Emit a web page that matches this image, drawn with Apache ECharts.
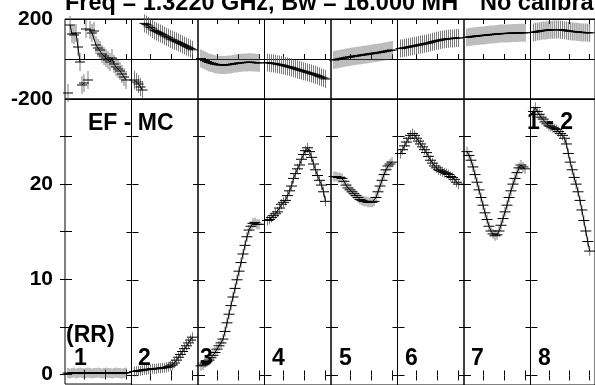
<!DOCTYPE html>
<html>
<head>
<meta charset="utf-8">
<script src="https://cdn.jsdelivr.net/npm/echarts@6/dist/echarts.min.js"></script>
<style>
  html, body { margin: 0; padding: 0; background: #fff; }
  #chart { width: 595px; height: 385px; }
</style>
</head>
<body>
<div id="chart"></div>
<script>
// Spectral channels within each IF
const channels = [1,2,3,4,5,6,7,8,9,10,11,12,13,14,15,16,17,18,19,20,21,22,23,24,25,26,27,28,29,30];
const ifLabels = ['1','2','3','4','5','6','7','8'];

// Amplitude per IF (RR)
const amp1 = [0.15,0.1,0.15,0.2,0.1,0.15,0.2,0.15,0.1,0.15,0.2,0.15,0.1,0.15,0.15,0.2,0.15,0.1,0.15,0.2,0.15,0.15,0.1,0.15,0.2,0.15,0.15,0.1,0.15,0.2];
const amp2 = [0.4,0.45,0.5,0.5,0.55,0.6,0.6,0.65,0.65,0.7,0.7,0.7,0.75,0.75,0.8,0.8,0.85,0.9,1.0,1.1,1.3,1.6,1.9,2.2,2.5,2.8,3.1,3.4,3.7,4.0];
const amp3 = [1.0,1.1,1.3,1.45,1.6,1.85,2.1,2.4,2.75,3.1,3.4,3.8,4.6,5.5,6.4,7.3,8.2,9.1,10.0,10.9,11.8,12.7,13.6,14.5,15.2,15.6,15.9,16.0,15.8,15.8];
const amp4 = [16.2,16.3,16.5,16.7,16.9,17.1,17.5,17.9,18.1,18.3,18.8,19.3,19.8,20.6,21.1,21.6,22.0,22.6,23.1,23.5,23.8,23.4,22.8,22.1,21.5,20.9,20.4,19.9,19.2,18.2];
const amp5 = [20.8,20.8,20.7,20.7,20.6,20.3,19.9,19.6,19.4,19.2,19.0,18.8,18.6,18.4,18.3,18.2,18.2,18.1,18.1,18.1,18.2,18.6,19.2,19.8,20.4,21.0,21.5,21.9,22.1,22.3];
const amp6 = [23.2,23.6,24.0,24.4,24.8,25.1,25.3,25.1,24.8,24.5,24.2,23.9,23.6,23.3,22.9,22.5,22.2,21.9,21.7,21.5,21.4,21.3,21.2,21.1,21.0,20.8,20.7,20.5,20.2,20.0];
const amp7 = [23.4,23.0,22.5,21.8,21.0,20.2,19.4,18.6,17.8,17.0,16.3,15.6,15.1,14.8,14.6,14.7,15.1,15.7,16.4,17.1,17.8,18.6,19.3,20.0,20.6,21.2,21.7,22.0,21.8,21.6];
const amp8 = [27.6,28.0,27.6,27.3,27.0,26.8,26.5,26.3,26.1,26.0,25.9,25.8,25.7,25.5,25.3,25.1,24.8,24.2,23.2,22.3,21.5,20.7,20.0,19.2,18.3,17.3,16.2,15.1,14.0,13.0];

// Phase per IF (degrees)
const pha1 = [-170,170,125,120,130,60,-15,-130,-120,150,-105,145,130,140,70,55,45,25,15,5,-5,-15,5,-25,-40,-50,-60,-75,-90,-105];
const pha2 = [-105,-115,-125,-140,-155,178,172,165,158,150,143,138,133,128,122,116,111,106,100,96,91,87,82,78,73,68,63,58,52,46];
const pha3 = [2,-3,-8,-13,-17,-20,-23,-26,-28,-29,-30,-30,-30,-29,-28,-27,-25,-23,-22,-20,-19,-18,-17,-17,-16,-16,-17,-18,-19,-20];
const pha4 = [-18,-20,-21,-22,-24,-26,-28,-30,-32,-35,-38,-40,-43,-46,-49,-52,-55,-58,-61,-64,-67,-70,-73,-76,-79,-83,-87,-91,-95,-100];
const pha5 = [-5,-3,-1,1,3,5,7,9,10,12,14,15,17,18,20,21,23,24,26,27,29,30,32,33,35,37,39,41,43,45];
const pha6 = [52,54,56,58,60,62,64,66,68,70,72,74,76,78,80,83,86,88,91,93,95,97,99,100,101,102,103,104,105,105];
const pha7 = [108,110,111,113,114,115,116,117,118,119,120,121,122,123,124,125,126,127,127,128,128,129,129,130,130,130,131,131,131,131];
const pha8 = [133,135,137,139,141,142,143,144,145,146,146,147,147,147,146,145,144,142,140,139,138,137,136,135,134,133,132,132,131,131];

// Axis ticks
const ampTicks = [0, 5, 10, 15, 20, 25];
const ampTickLabels = [0, 10, 20];
const phaseTickLabels = [-200, 200];
const chanTicks = [9, 19.5, 30];

const amps = [amp1, amp2, amp3, amp4, amp5, amp6, amp7, amp8];
const phases = [pha1, pha2, pha3, pha4, pha5, pha6, pha7, pha8];

const chart = echarts.init(document.getElementById('chart'), null, { renderer: 'canvas' });

const FONT = '"Liberation Sans", Arial, Helvetica, sans-serif';
const X0 = 65, PANEL_W = 66.5;
const TOP_Y = 19, TOP_H = 80, BOT_Y = 99, BOT_H = 287;
const X_MIN = -0.5, X_MAX = 32.75;
const AMP_MIN = -1, AMP_MAX = 28.9;

const grids = [], xAxes = [], yAxes = [], series = [];

function addXAxes(g) {
  ['bottom', 'top'].forEach(pos => {
    xAxes.push({
      type: 'value', gridIndex: g, position: pos, min: X_MIN, max: X_MAX,
      axisLine: { show: false }, axisLabel: { show: false }, splitLine: { show: false },
      axisTick: { show: true, inside: true, length: 5, customValues: chanTicks,
                  lineStyle: { color: '#000', width: 1 } }
    });
  });
}

// Phase row (top) and amplitude row (bottom), one panel per IF
for (let i = 0; i < 8; i++) {
  grids.push({ left: X0 + i * PANEL_W, top: TOP_Y, width: PANEL_W, height: TOP_H,
               show: true, borderColor: '#000', borderWidth: 1, backgroundColor: 'transparent' });
}
for (let i = 0; i < 8; i++) {
  grids.push({ left: X0 + i * PANEL_W, top: BOT_Y, width: PANEL_W, height: BOT_H,
               show: true, borderColor: '#000', borderWidth: 1, backgroundColor: 'transparent' });
}

const labelStyle = { color: '#000', fontFamily: FONT, fontWeight: 'bold', fontSize: 21 };

for (let i = 0; i < 8; i++) {
  addXAxes(i);
  yAxes.push({
    type: 'value', gridIndex: i, position: 'left', min: -200, max: 200, interval: 200,
    axisLine: { show: false }, axisTick: { show: false },
    splitLine: { show: true, lineStyle: { color: '#000', width: 1 } },
    axisLabel: Object.assign({ show: i === 0, margin: 12, customValues: phaseTickLabels }, labelStyle)
  });
}
for (let i = 0; i < 8; i++) {
  addXAxes(8 + i);
  ['left', 'right'].forEach(pos => {
    yAxes.push({
      type: 'value', gridIndex: 8 + i, position: pos, min: AMP_MIN, max: AMP_MAX,
      axisLine: { show: false }, splitLine: { show: false },
      axisTick: { show: true, inside: false, length: 6, customValues: ampTicks,
                  lineStyle: { color: '#000', width: 1 } },
      axisLabel: Object.assign({ show: i === 0 && pos === 'left', margin: 12,
                                 customValues: ampTickLabels }, labelStyle)
    });
  });
}

// Break the phase trace where it wraps, so the line does not jump across the panel
function phaseLine(vals) {
  const out = [];
  vals.forEach((v, k) => {
    if (k > 0 && Math.abs(v - vals[k - 1]) > 90) {
      out.push([(channels[k] + channels[k - 1]) / 2, '-']);
    }
    out.push([channels[k], v]);
  });
  return out;
}

for (let i = 0; i < 8; i++) {
  const px = 2 * i, py = i;                 // phase axes
  const ax = 16 + 2 * i, ay = 8 + 2 * i;    // amplitude axes
  const ampData = channels.map((c, k) => [c, amps[i][k]]);
  const phData = channels.map((c, k) => [c, phases[i][k]]);

  series.push({
    type: 'scatter', xAxisIndex: px, yAxisIndex: py, data: phData,
    symbol: 'rect', symbolSize: [1, 18], itemStyle: { color: '#5a5a5a' }, z: 2, silent: true
  });
  series.push({
    type: 'line', xAxisIndex: px, yAxisIndex: py, data: phaseLine(phases[i]),
    showSymbol: true, showAllSymbol: true, symbol: 'rect', symbolSize: [10, 1],
    itemStyle: { color: '#000' }, lineStyle: { color: '#000', width: 1 }, z: 3, silent: true
  });
  series.push({
    type: 'scatter', xAxisIndex: ax, yAxisIndex: ay, data: ampData,
    symbol: 'rect', symbolSize: [1, 10], itemStyle: { color: '#5a5a5a' }, z: 2, silent: true
  });
  series.push({
    type: 'line', xAxisIndex: ax, yAxisIndex: ay, data: ampData,
    showSymbol: true, showAllSymbol: true, symbol: 'rect', symbolSize: [11, 1],
    itemStyle: { color: '#000' }, lineStyle: { color: '#000', width: 1 }, z: 3, silent: true
  });
}

function txt(x, y, s, size) {
  return { type: 'text', x: x, y: y, z: 10, silent: true,
           style: { text: s, font: 'bold ' + (size || 23) + 'px ' + FONT, fill: '#000',
                    align: 'left', verticalAlign: 'middle' } };
}

const graphics = [
  txt(65, 4, 'Freq = 1.3220 GHz, Bw = 16.000 MH', 23.5),
  txt(480, 4, 'No calibra', 23.5),
  txt(88, 124, 'EF - MC'),
  txt(527, 123, '1 - 2'),
  txt(66, 336, '(RR)')
];
const ifLabelX = [74, 138, 200, 272, 339, 405, 471, 538];
ifLabels.forEach((s, i) => graphics.push(txt(ifLabelX[i], 359, s)));

chart.setOption({
  animation: false,
  backgroundColor: '#fff',
  grid: grids,
  xAxis: xAxes,
  yAxis: yAxes,
  series: series,
  graphic: graphics
});
</script>
</body>
</html>
